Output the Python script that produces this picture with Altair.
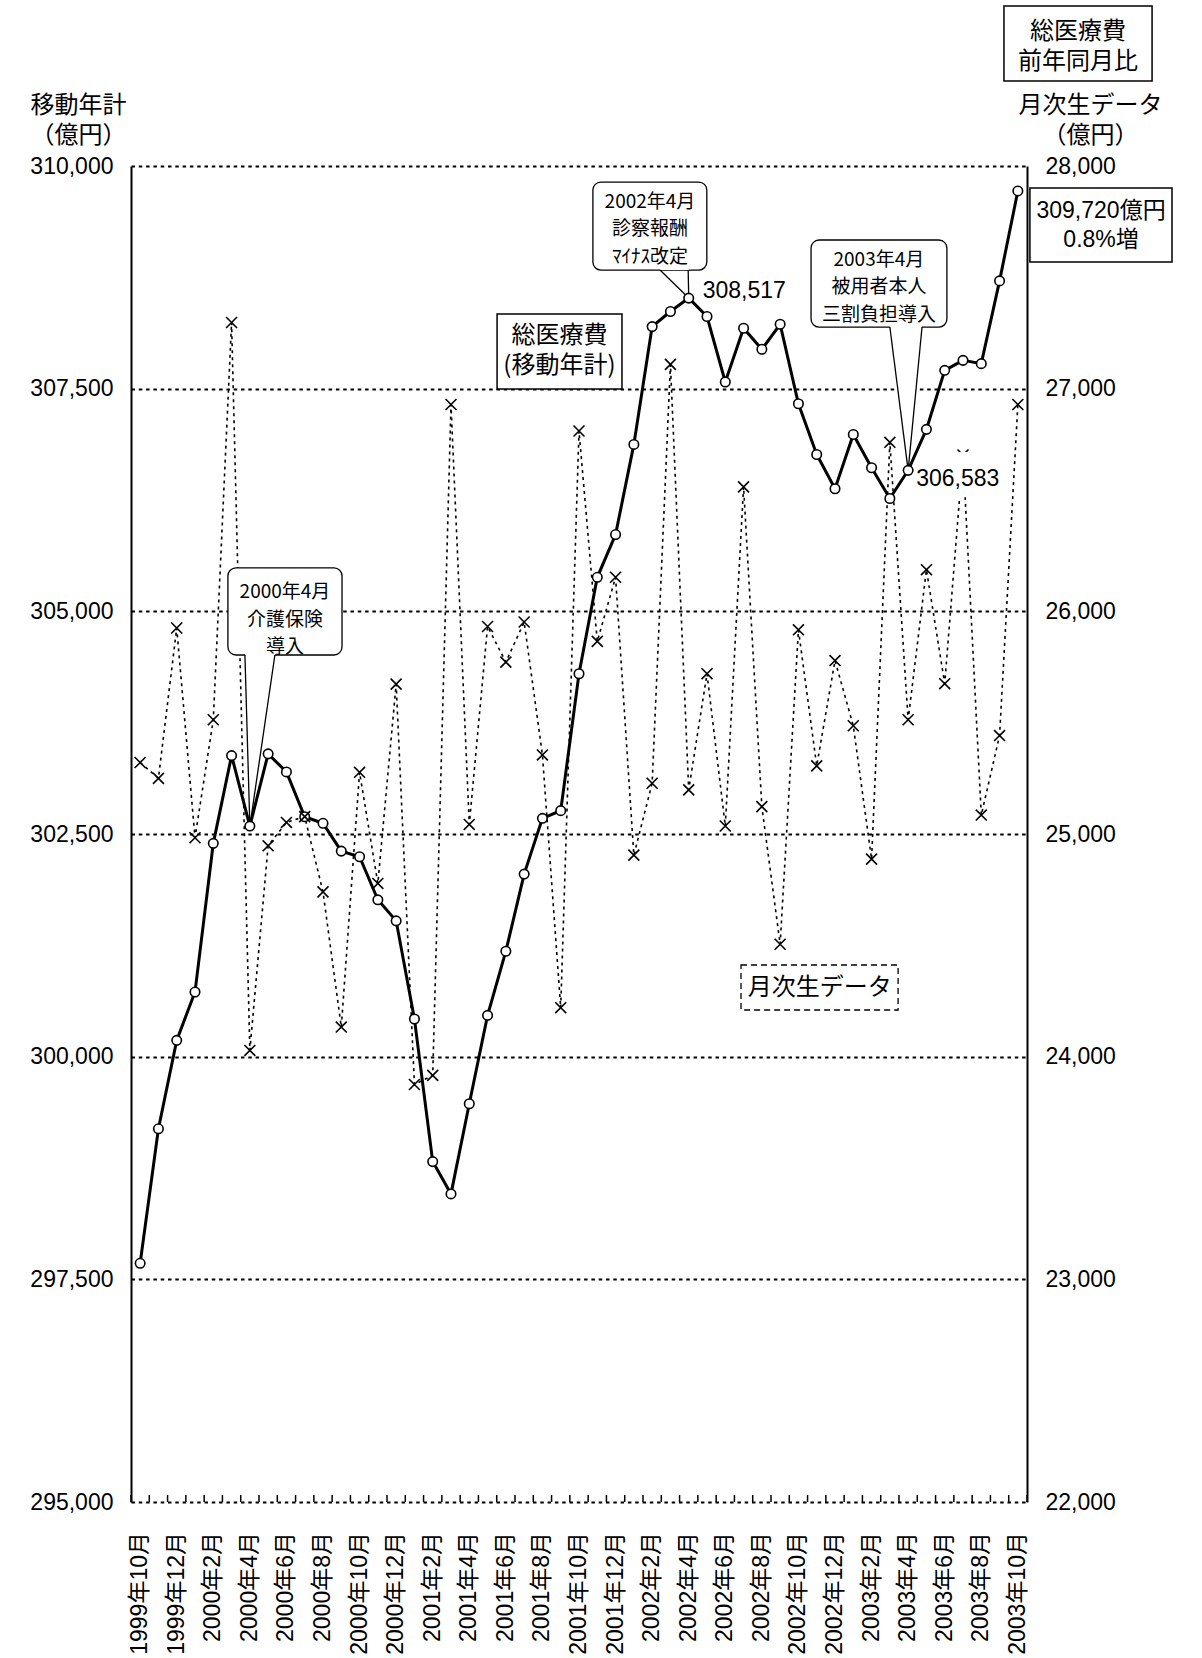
import altair as alt
import pandas as pd

# ---- data -------------------------------------------------------------
months = [
    "1999年10月", "1999年11月", "1999年12月",
    "2000年1月", "2000年2月", "2000年3月", "2000年4月", "2000年5月", "2000年6月",
    "2000年7月", "2000年8月", "2000年9月", "2000年10月", "2000年11月", "2000年12月",
    "2001年1月", "2001年2月", "2001年3月", "2001年4月", "2001年5月", "2001年6月",
    "2001年7月", "2001年8月", "2001年9月", "2001年10月", "2001年11月", "2001年12月",
    "2002年1月", "2002年2月", "2002年3月", "2002年4月", "2002年5月", "2002年6月",
    "2002年7月", "2002年8月", "2002年9月", "2002年10月", "2002年11月", "2002年12月",
    "2003年1月", "2003年2月", "2003年3月", "2003年4月", "2003年5月", "2003年6月",
    "2003年7月", "2003年8月", "2003年9月", "2003年10月",
]

# 総医療費 移動年計 (億円, left axis)
annual_total = [
    297680, 299190, 300183, 300726, 302395, 303380, 302589, 303400, 303197,
    302694, 302620, 302308, 302245, 301761, 301525, 300423, 298822, 298459,
    299471, 300464, 301184, 302050, 302676, 302762, 304299, 305382, 305862,
    306874, 308197, 308366, 308517, 308310, 307575, 308178, 307942, 308223,
    307331, 306761, 306376, 306986, 306612, 306267, 306583, 307043, 307706,
    307818, 307781, 308710, 309720,
]

# 月次生データ (億円, right axis)
monthly_raw = [
    25321, 25250, 25925, 24983, 25513, 27297, 24028, 24947, 25052,
    25078, 24740, 24133, 25277, 24778, 25673, 23875, 23916, 26929,
    25043, 25932, 25772, 25952, 25355, 24220, 26810, 25865, 26153,
    24905, 25228, 27109, 25198, 25720, 25036, 26559, 25123, 24505,
    25917, 25306, 25779, 25486, 24887, 26759, 25513, 26187, 25675,
    26702, 25085, 25442, 26929,
]

left_ticks = [295000, 297500, 300000, 302500, 305000, 307500, 310000]
right_ticks = [22000, 23000, 24000, 25000, 26000, 27000, 28000]
label_months = months[::2]

# callouts: box (month-index / left-axis units), pointer base and target month
callout_text = ["2000年4月\n介護保険\n導入",
                "2002年4月\n診察報酬\nﾏｲﾅｽ改定",
                "2003年4月\n被用者本人\n三割負担導入"]
callout_x1 = [4.80, 24.76, 36.69]
callout_x2 = [11.04, 30.99, 44.12]
callout_top = [305487, 309820, 309169]
callout_bottom = [304510, 308832, 308192]
callout_tx = [7.92, 27.88, 40.40]
callout_ty = [305217, 309596, 308945]
pointer_left = [5.73, 28.43, 41.00]
pointer_right = [7.37, 29.97, 42.76]
pointer_target = [6, 30, 42]

# plain labelled boxes
box_text = ["総医療費\n(移動年計)", "総医療費\n前年同月比"]
box_x1 = [19.52, 47.24]
box_x2 = [26.35, 55.34]
box_top = [308338, 311796]
box_bottom = [307496, 310954]
box_tx = [22.93, 51.29]
box_ty = [308091, 311504]

# dashed series label
dash_text = ["月次生データ"]
dash_x1, dash_x2 = [32.86], [41.45]
dash_top, dash_bottom = [301029], [300524]
dash_tx, dash_ty = [37.16], [300771]

# latest-value box
last_x1, last_x2 = [48.66], [56.43]
last_top, last_bottom = [309753], [308922]
last_tx, last_ty = [52.55], [309495]
last_growth = "0.8%増"

# white backing behind the 2003年4月 value label
low_bg_x1, low_bg_x2 = [42.54], [47.02]
low_bg_top, low_bg_bottom = [306789], [306280]

# ---- layout -----------------------------------------------------------
W, H = 896, 1336
NUM_FONT = "Liberation Sans, Noto Sans CJK JP"
JP_FONT = "Noto Sans CJK JP"
XPATH = "M-1,-1L1,1M-1,1L1,-1"

n = len(months)
df = pd.DataFrame({"idx": list(range(n)), "month": months,
                   "annual": annual_total, "monthly": monthly_raw})

x_scale = alt.Scale(domain=[-0.5, n - 0.5], nice=False, zero=False)
l_scale = alt.Scale(domain=[left_ticks[0], left_ticks[-1]], nice=False, zero=False)
r_scale = alt.Scale(domain=[right_ticks[0], right_ticks[-1]], nice=False, zero=False)

x_axis = alt.Axis(labels=False, ticks=False, grid=False,
                  domainColor="black", domainWidth=2, title=None)
left_axis = alt.Axis(
    orient="left", values=left_ticks, format=",.0f", grid=True, gridColor="black",
    gridDash=[3.5, 3.8], gridWidth=2, ticks=False,
    domainColor="black", domainWidth=2,
    labelFont=NUM_FONT, labelFontSize=23, labelColor="black", labelPadding=18,
    title=["移動年計", "（億円）"], titleAngle=0, titleAlign="center",
    titleBaseline="top", titleX=-53, titleY=-73, titleFont=JP_FONT,
    titleFontSize=24, titleFontWeight="normal", titleColor="black",
    titleLineHeight=30,
)
right_axis = alt.Axis(
    orient="right", values=right_ticks, format=",.0f", grid=False, ticks=False,
    domainColor="black", domainWidth=2,
    labelFont=NUM_FONT, labelFontSize=23, labelColor="black", labelPadding=18,
    title=["月次生データ", "（億円）"], titleAngle=0, titleAlign="center",
    titleBaseline="top", titleX=63, titleY=-73, titleFont=JP_FONT,
    titleFontSize=24, titleFontWeight="normal", titleColor="black",
    titleLineHeight=30,
)


def X(field, axis=None):
    return alt.X(field, type="quantitative", scale=x_scale, axis=axis)


def YL(field, axis=None):
    return alt.Y(field, type="quantitative", scale=l_scale, axis=axis)


def YR(field, axis=None):
    return alt.Y(field, type="quantitative", scale=r_scale, axis=axis)


base = alt.Chart(df)

# ---- monthly raw data (right axis) ------------------------------------
monthly_line = base.mark_line(color="black", strokeWidth=1.6, strokeDash=[3, 4]).encode(
    x=X("idx", x_axis), y=YR("monthly", right_axis))
monthly_marks = base.mark_point(shape=XPATH, size=120, filled=False, color="black",
                                strokeWidth=1.6, opacity=1).encode(
    x=X("idx"), y=YR("monthly"))

# ---- month ticks (inward) and vertical month labels -------------------
tick_df = pd.DataFrame({"pos": [i - 0.5 for i in range(n + 1)]})
x_ticks = alt.Chart(tick_df).mark_rule(color="black", strokeWidth=1.5).encode(
    x=X("pos"), y=alt.value(H), y2=alt.value(H - 7))
x_labels = base.transform_filter(
    alt.FieldOneOfPredicate(field="month", oneOf=label_months)).mark_text(
    angle=270, align="right", baseline="middle", font=NUM_FONT, fontSize=23,
    color="black").encode(x=X("idx"), y=alt.value(H + 30), text="month:N")

# ---- annotations (left axis units) ------------------------------------
low_bg = alt.Chart(pd.DataFrame({"x1": low_bg_x1, "x2": low_bg_x2,
                                 "y1": low_bg_top, "y2": low_bg_bottom})).mark_rect(
    fill="white", opacity=1).encode(x=X("x1"), x2="x2", y=YL("y1"), y2="y2")

callout_df = pd.DataFrame({"x1": callout_x1, "x2": callout_x2,
                           "y1": callout_top, "y2": callout_bottom})
callout_boxes = alt.Chart(callout_df).mark_rect(
    fill="white", stroke="black", strokeWidth=1.3, cornerRadius=8).encode(
    x=X("x1"), x2="x2", y=YL("y1"), y2="y2")

area_rows = []
rule_rows = []
for g in range(len(pointer_target)):
    t = pointer_target[g]
    b = callout_bottom[g]
    area_rows += [
        {"g": g, "px": pointer_left[g], "py": b, "pb": b + 60},
        {"g": g, "px": float(t), "py": annual_total[t], "pb": b + 60},
        {"g": g, "px": pointer_right[g], "py": b, "pb": b + 60},
    ]
    rule_rows += [
        {"x1": pointer_left[g], "y1": b, "x2": float(t), "y2": annual_total[t]},
        {"x1": pointer_right[g], "y1": b, "x2": float(t), "y2": annual_total[t]},
    ]
pointer_fill = alt.Chart(pd.DataFrame(area_rows)).mark_area(
    color="white", opacity=1).encode(
    x=X("px"), y=YL("py"), y2="pb", detail="g:N")
pointer_edges = alt.Chart(pd.DataFrame(rule_rows)).mark_rule(
    color="black", strokeWidth=1.3).encode(
    x=X("x1"), x2="x2", y=YL("y1"), y2="y2")
callout_labels = alt.Chart(pd.DataFrame({"x": callout_tx, "y": callout_ty, "t": callout_text})).mark_text(
    font=JP_FONT, fontSize=19, lineHeight=27.5, lineBreak="\n",
    align="center", baseline="middle", color="black").encode(
    x=X("x"), y=YL("y"), text="t:N")

plain_df = pd.DataFrame({"x1": box_x1 + last_x1, "x2": box_x2 + last_x2,
                         "y1": box_top + last_top, "y2": box_bottom + last_bottom})
plain_boxes = alt.Chart(plain_df).mark_rect(
    fill="white", stroke="black", strokeWidth=1.5).encode(
    x=X("x1"), x2="x2", y=YL("y1"), y2="y2")
plain_labels = alt.Chart(pd.DataFrame({"x": box_tx, "y": box_ty, "t": box_text})).mark_text(
    font=JP_FONT, fontSize=24, lineHeight=30, lineBreak="\n",
    align="center", baseline="middle", color="black").encode(
    x=X("x"), y=YL("y"), text="t:N")

dash_df = pd.DataFrame({"x1": dash_x1, "x2": dash_x2, "y1": dash_top, "y2": dash_bottom})
dash_box = alt.Chart(dash_df).mark_rect(
    fill="white", stroke="black", strokeWidth=1.3, strokeDash=[6, 4]).encode(
    x=X("x1"), x2="x2", y=YL("y1"), y2="y2")
dash_label = alt.Chart(pd.DataFrame({"x": dash_tx, "y": dash_ty, "t": dash_text})).mark_text(
    font=JP_FONT, fontSize=24, align="center", baseline="middle", color="black").encode(
    x=X("x"), y=YL("y"), text="t:N")

# ---- moving annual total (left axis) ----------------------------------
annual_line = base.mark_line(color="black", strokeWidth=3).encode(
    x=X("idx"), y=YL("annual", left_axis))
annual_pts = base.mark_point(shape="circle", filled=True, fill="white", stroke="black",
                             strokeWidth=1.6, size=90, opacity=1).encode(
    x=X("idx"), y=YL("annual"))

peak_label = base.transform_filter(alt.datum.idx == 30).mark_text(
    font=NUM_FONT, fontSize=23, align="left", baseline="middle", dx=14, dy=-7,
    color="black").encode(x=X("idx"), y=YL("annual"), text=alt.Text("annual:Q", format=",.0f"))
low_label = base.transform_filter(alt.datum.idx == 42).mark_text(
    font=NUM_FONT, fontSize=23, align="left", baseline="middle", dx=8, dy=9,
    color="black").encode(x=X("idx"), y=YL("annual"), text=alt.Text("annual:Q", format=",.0f"))

last_df = pd.DataFrame({"x": last_tx, "y": last_ty,
                        "v": [annual_total[-1]], "g": [last_growth]})
last_label = alt.Chart(last_df).transform_calculate(
    t="format(datum.v, ',.0f') + '億円\\n' + datum.g").mark_text(
    font=NUM_FONT, fontSize=23, lineHeight=29, lineBreak="\n",
    align="center", baseline="middle", color="black").encode(
    x=X("x"), y=YL("y"), text="t:N")

chart = alt.layer(
    monthly_line, callout_boxes, pointer_fill, pointer_edges, plain_boxes, dash_box,
    annual_line, annual_pts, monthly_marks, low_bg, x_ticks, x_labels,
    callout_labels, plain_labels, dash_label, peak_label, low_label, last_label,
).resolve_scale(y="independent").properties(
    width=W, height=H,
    padding={"left": 131, "top": 166, "right": 175, "bottom": 156},
    autosize=alt.AutoSizeParams(type="none"),
    background="white",
).configure_view(stroke=None)

chart.save("out.html", embed_options={"renderer": "svg", "actions": False})
